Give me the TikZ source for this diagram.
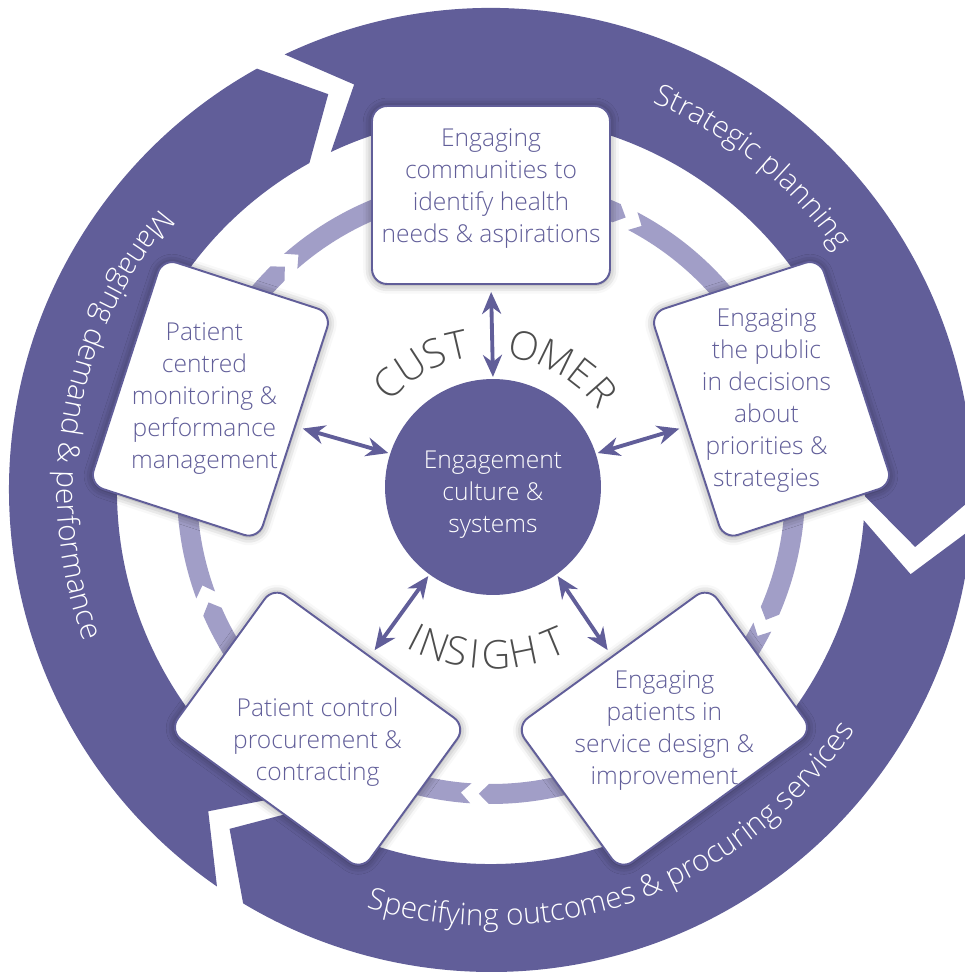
\documentclass[tikz,border=0pt]{standalone}
\usepackage{fontspec}
\setmainfont{Open Sans Light}
\usepackage{tikz}
\usetikzlibrary{arrows.meta, decorations.text, shadows.blur}

\definecolor{ringpurple}{RGB}{97,94,153}
\definecolor{flowlilac}{RGB}{161,158,199}
\definecolor{lettergrey}{RGB}{77,77,77}

\newcommand{\boxfont}{\fontsize{14}{18.2}\selectfont}
\newcommand{\ringfont}{\fontsize{17}{20}\selectfont}
\newcommand{\capsfont}{\fontsize{22.5}{22.5}\selectfont}

% one band of a ring: colour, start gap, end gap, inner r, outer r, gap, depth
\newcommand{\ringpiece}[7]{%
	\fill[#1] ({#2-#6/2+#7}:#5) arc[start angle={#2-#6/2+#7}, end angle={#3+#6/2+#7}, radius=#5]
	-- ({#3+#6/2}:{(#4+#5)/2}) -- ({#3+#6/2+#7}:#4)
	arc[start angle={#3+#6/2+#7}, end angle={#2-#6/2+#7}, radius=#4]
	-- ({#2-#6/2}:{(#4+#5)/2}) -- cycle;}

\begin{document}
\begin{tikzpicture}[%
	x=0.02cm, y=0.02cm,
	>={Stealth[length=0.44cm, width=0.38cm]},
	panel/.style={draw=ringpurple, line width=1.1pt, fill=white,
		rounded corners=0.3cm, minimum width=4.76cm, minimum height=3.56cm,
		inner sep=0pt,
		blur shadow={shadow xshift=0pt, shadow yshift=-0.5pt, shadow blur radius=5pt, shadow opacity=45}},
	paneltext/.style={text=ringpurple, align=center, font=\boxfont, inner sep=0pt},
	core/.style={circle, fill=ringpurple, minimum size=4.32cm, inner sep=0pt},
	coretext/.style={text=white, align=center, font=\boxfont, inner sep=0pt},
	link/.style={<->, draw=ringpurple, line width=2.2pt, shorten <=1pt, shorten >=0.14cm},
	capletter/.style={text=lettergrey, font=\capsfont, inner sep=0pt}
	]
	\useasboundingbox (-491,-484) rectangle (473,490);
	
	% outer ring
	\ringpiece{ringpurple}{110.5}{-9.5}{374}{482}{3.7}{6.7}
	\ringpiece{ringpurple}{-9.5}{-129.5}{374}{482}{3.7}{6.7}
	\ringpiece{ringpurple}{230.5}{110.5}{374}{482}{3.7}{6.7}
	
	% inner flow
	\ringpiece{flowlilac}{131}{62}{294}{314}{3.4}{1.9}
	\ringpiece{flowlilac}{62}{-27}{294}{314}{3.4}{1.9}
	\ringpiece{flowlilac}{-27}{-94}{294}{314}{3.4}{1.9}
	\ringpiece{flowlilac}{-94}{-160}{294}{314}{3.4}{1.9}
	\ringpiece{flowlilac}{200}{131}{294}{314}{3.4}{1.9}
	
	\node[core] (core) at (2,3) {};
	\node[coretext] (coretxt) at ([yshift=-0.16cm]core.center) {Engagement\\culture \&\\systems};
	
	\foreach \n/\a in {1/90, 2/18, 3/-54, 4/-126, 5/162}
	\node[panel, rotate=\a-90] (b\n) at (\a:295) {};
	
	\node[paneltext] (t1) at ([yshift=0.12cm]b1.center) {Engaging\\communities to\\identify health\\needs \& aspirations};
	\node[paneltext] (t2) at ([xshift=-0.1cm, yshift=-0.04cm]b2.center) {Engaging\\the public\\in decisions\\about\\priorities \&\\strategies};
	\node[paneltext] (t3) at ([yshift=-0.04cm]b3.center) {Engaging\\patients in\\service design \&\\improvement};
	\node[paneltext] (t4) at ([yshift=-0.26cm]b4.center) {Patient control\\procurement \&\\contracting};
	\node[paneltext] (t5) at ([xshift=-0.12cm]b5.center) {Patient\\centred\\monitoring \&\\performance\\management};
	
	\draw[link] (core.90) -- (b1.south);
	\draw[link] (core.18) -- (b2.south);
	\draw[link] (core.-54) -- (b3.south);
	\draw[link] (core.-126) -- (b4.south);
	\draw[link] (core.162) -- (b5.south);
	
	% letters round the core
	\foreach \ch/\a [count=\i] in {C/134, U/123, S/112.5, T/103, O/77, M/64, E/52, R/41.5}
	\node[capletter, rotate=\a-90] (cust\i) at (\a:148) {\ch};
	\foreach \ch/\a [count=\i] in {I/243, N/250, S/258, I/264.5, G/272, H/281.5, T/292.5}
	\node[capletter, rotate=\a+90] (ins\i) at (\a:165) {\ch};
	
	% ring labels
	\path[decorate, decoration={text along path, text align=center, text color=white,
		text={|\ringfont|Strategic planning}}]
	(91:420) arc[start angle=91, end angle=11, radius=420];
	\path[decorate, decoration={text along path, text align=center, text color=white,
		text={|\ringfont|Specifying outcomes {\&} procuring services}}]
	(235:436) arc[start angle=235, end angle=345, radius=436];
	\path[decorate, decoration={text along path, text align=center, text color=white,
		text={|\ringfont|Managing demand {\&} performance}}]
	(115:434) arc[start angle=115, end angle=225, radius=434];
\end{tikzpicture}
\end{document}
